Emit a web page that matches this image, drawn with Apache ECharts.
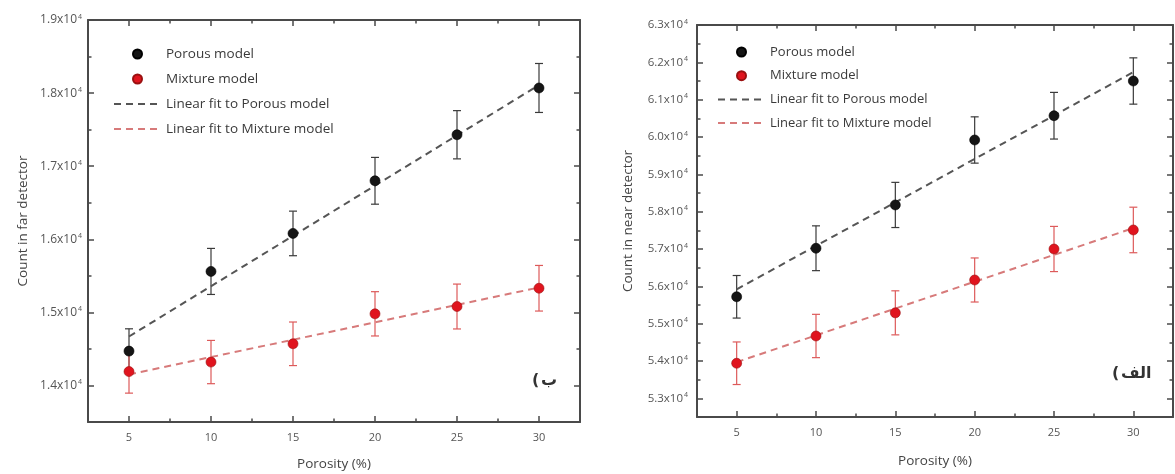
<!DOCTYPE html>
<html>
<head>
<meta charset="utf-8">
<script src="https://cdn.jsdelivr.net/npm/echarts@6/dist/echarts.min.js"></script>
<style>
  html, body { margin: 0; padding: 0; background: #fff; }
  #chart { width: 1175px; height: 474px; }
</style>
</head>
<body>
<div id="chart"></div>
<script>
// Porosity values (%) shared by both panels
const porosity = [5, 10, 15, 20, 25, 30];

// Far detector counts and their uncertainties
const farPorous = [14470, 15560, 16080, 16800, 17430, 18070];
const farPorousErr = [305, 315, 305, 320, 330, 335];
const farMixture = [14190, 14320, 14570, 14980, 15080, 15330];
const farMixtureErr = [295, 296, 298, 303, 307, 312];

// Near detector counts and their uncertainties
const nearPorous = [55720, 57020, 58180, 59920, 60570, 61500];
const nearPorousErr = [570, 600, 605, 620, 625, 620];
const nearMixture = [53940, 54670, 55290, 56170, 57000, 57510];
const nearMixtureErr = [570, 580, 590, 590, 605, 610];

// Linear fit end points (at porosity 5 and 30)
const fitX = [5, 30];
const farPorousFit = [14670, 18110];
const farMixtureFit = [14150, 15340];
const nearPorousFit = [55920, 61740];
const nearMixtureFit = [53970, 57560];

// Tick positions
const xMajorTicks = [5, 10, 15, 20, 25, 30];
const xMinorTicks = [7.5, 12.5, 17.5, 22.5, 27.5];
const farYTicks = [14000, 15000, 16000, 17000, 18000, 19000];
const farYMinor = [14500, 15500, 16500, 17500, 18500];
const nearYTicks = [53000, 54000, 55000, 56000, 57000, 58000, 59000, 60000, 61000, 62000, 63000];
const nearYMinor = [53500, 54500, 55500, 56500, 57500, 58500, 59500, 60500, 61500, 62500];

const names = ['Porous model', 'Mixture model', 'Linear fit to Porous model', 'Linear fit to Mixture model'];

// Panel captions (Persian); the opening bracket is drawn on its own so it stays on the left
const panelFar = 'ب';
const panelNear = 'الف';

const FONT = 'Open Sans';
const frame = '#4a4a4a';
const porousColor = '#151515';
const mixtureColor = '#e0141e';
const porousFitColor = '#555555';
const mixtureFitColor = '#d77a7a';
const porousBarColor = '#3a3a3a';
const mixtureBarColor = '#dd5a5a';

function yLabel(v) {
  return '{m|' + (v / 10000).toFixed(1) + 'x10}{e|4}';
}

function xAxes(grid, name, gap) {
  const base = { gridIndex: grid, type: 'value', min: 2.5, max: 32.5, splitLine: { show: false } };
  const line = { show: true, lineStyle: { color: frame, width: 2 } };
  const major = { show: true, inside: true, length: 6, customValues: xMajorTicks, lineStyle: { color: frame, width: 1.5 } };
  const minor = { show: true, inside: true, length: 3.5, customValues: xMinorTicks, lineStyle: { color: frame, width: 1.5 } };
  return [
    Object.assign({}, base, {
      position: 'bottom', name: name, nameLocation: 'middle', nameGap: gap,
      nameTextStyle: { fontFamily: FONT, fontSize: 13.5, color: '#444' },
      axisLine: line, axisTick: major,
      axisLabel: { show: true, customValues: xMajorTicks, margin: 10, color: '#555', fontSize: 11, fontFamily: FONT }
    }),
    Object.assign({}, base, { position: 'bottom', axisLine: { show: false }, axisTick: minor, axisLabel: { show: false } }),
    Object.assign({}, base, { position: 'top', axisLine: line, axisTick: major, axisLabel: { show: false } }),
    Object.assign({}, base, { position: 'top', axisLine: { show: false }, axisTick: minor, axisLabel: { show: false } })
  ];
}

function yAxes(grid, min, max, ticks, minorTicks, name, gap, margin, size) {
  const base = { gridIndex: grid, type: 'value', min: min, max: max, splitLine: { show: false } };
  const line = { show: true, lineStyle: { color: frame, width: 2 } };
  const major = { show: true, inside: true, length: 6, customValues: ticks, lineStyle: { color: frame, width: 1.5 } };
  const minor = { show: true, inside: true, length: 3.5, customValues: minorTicks, lineStyle: { color: frame, width: 1.5 } };
  return [
    Object.assign({}, base, {
      position: 'left', name: name, nameLocation: 'middle', nameGap: gap,
      nameTextStyle: { fontFamily: FONT, fontSize: 13.5, color: '#444' },
      axisLine: line, axisTick: major,
      axisLabel: {
        show: true, customValues: ticks, margin: margin, formatter: yLabel,
        rich: {
          m: { fontFamily: FONT, fontSize: size, color: '#555' },
          e: { fontFamily: FONT, fontSize: 7, color: '#555', verticalAlign: 'top', padding: [0, 0, 7, 1] }
        }
      }
    }),
    Object.assign({}, base, { position: 'left', axisLine: { show: false }, axisTick: minor, axisLabel: { show: false } }),
    Object.assign({}, base, { position: 'right', axisLine: line, axisTick: major, axisLabel: { show: false } }),
    Object.assign({}, base, { position: 'right', axisLine: { show: false }, axisTick: minor, axisLabel: { show: false } })
  ];
}

function errorBars(axisIndex, values, errs, color) {
  return {
    type: 'custom',
    xAxisIndex: axisIndex, yAxisIndex: axisIndex,
    silent: true, z: 2,
    data: porosity.map(function (x, i) { return [x, values[i], errs[i]]; }),
    renderItem: function (params, api) {
      const x = api.value(0), y = api.value(1), e = api.value(2);
      const top = api.coord([x, y + e]);
      const bot = api.coord([x, y - e]);
      const w = 4;
      const style = { stroke: color, lineWidth: 1.2 };
      return {
        type: 'group',
        children: [
          { type: 'line', shape: { x1: top[0], y1: top[1], x2: bot[0], y2: bot[1] }, style: style },
          { type: 'line', shape: { x1: top[0] - w, y1: top[1], x2: top[0] + w, y2: top[1] }, style: style },
          { type: 'line', shape: { x1: bot[0] - w, y1: bot[1], x2: bot[0] + w, y2: bot[1] }, style: style }
        ]
      };
    }
  };
}

function points(axisIndex, name, values, color, border) {
  return {
    type: 'scatter', name: name,
    xAxisIndex: axisIndex, yAxisIndex: axisIndex,
    symbol: 'circle', symbolSize: 10, z: 4,
    itemStyle: { color: color, borderColor: border, borderWidth: 0.6, opacity: 1 },
    data: porosity.map(function (x, i) { return [x, values[i]]; })
  };
}

function fitLine(axisIndex, name, ends, color) {
  return {
    type: 'line', name: name,
    xAxisIndex: axisIndex, yAxisIndex: axisIndex,
    symbol: 'none', z: 3, silent: true,
    lineStyle: { color: color, width: 2, type: [7, 5] },
    itemStyle: { color: color },
    data: fitX.map(function (x, i) { return [x, ends[i]]; })
  };
}

function legend(left, top, gap, size) {
  return {
    orient: 'vertical', left: left, top: top, padding: 0,
    itemWidth: 47, itemHeight: 9, itemGap: gap,
    data: [
      { name: names[0] },
      { name: names[1] },
      { name: names[2], itemStyle: { opacity: 0 } },
      { name: names[3], itemStyle: { opacity: 0 } }
    ],
    textStyle: { fontFamily: FONT, fontSize: size, color: '#3a3a3a', lineHeight: 16, padding: [0, 0, 0, 0] }
  };
}

function caption(left, top, word) {
  const font = 'bold 16px "DejaVu Sans"';
  return [
    { type: 'text', left: left, top: top, style: { text: '(', font: font, fill: '#333' } },
    { type: 'text', left: left + 9, top: top, style: { text: word, font: font, fill: '#333' } }
  ];
}

const chart = echarts.init(document.getElementById('chart'), null, { renderer: 'canvas' });

chart.setOption({
  backgroundColor: '#ffffff',
  animation: false,
  grid: [
    { left: 88, top: 20, width: 492, height: 402, outerBoundsMode: 'none', containLabel: false },
    { left: 697, top: 25, width: 476, height: 392, outerBoundsMode: 'none', containLabel: false }
  ],
  xAxis: xAxes(0, 'Porosity (%)', 35).concat(xAxes(1, 'Porosity (%)', 37)),
  yAxis: yAxes(0, 13500, 19000, farYTicks, farYMinor, 'Count in far detector', 58, 6, 12)
    .concat(yAxes(1, 52500, 63000, nearYTicks, nearYMinor, 'Count in near detector', 62, 9, 11.5)),
  legend: [legend(113, 46, 9, 13.5), legend(717, 44, 7.7, 13)],
  graphic: caption(532, 373, panelFar).concat(caption(1112, 366, panelNear)),
  series: [
    errorBars(0, farPorous, farPorousErr, porousBarColor),
    errorBars(0, farMixture, farMixtureErr, mixtureBarColor),
    fitLine(0, names[2], farPorousFit, porousFitColor),
    fitLine(0, names[3], farMixtureFit, mixtureFitColor),
    points(0, names[0], farPorous, porousColor, '#000'),
    points(0, names[1], farMixture, mixtureColor, '#9a1010'),

    errorBars(4, nearPorous, nearPorousErr, porousBarColor),
    errorBars(4, nearMixture, nearMixtureErr, mixtureBarColor),
    fitLine(4, names[2], nearPorousFit, porousFitColor),
    fitLine(4, names[3], nearMixtureFit, mixtureFitColor),
    points(4, names[0], nearPorous, porousColor, '#000'),
    points(4, names[1], nearMixture, mixtureColor, '#9a1010')
  ]
});
</script>
</body>
</html>
